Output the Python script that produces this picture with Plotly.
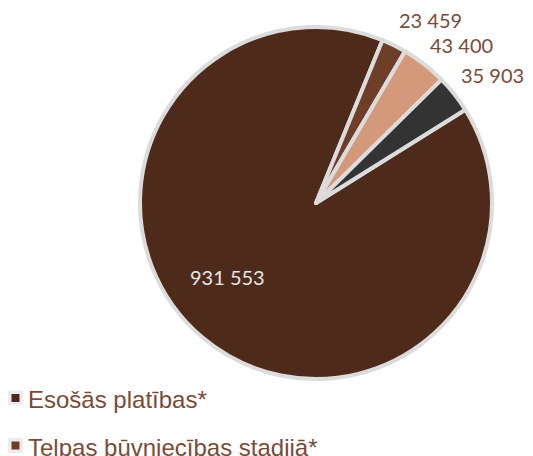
import math
import plotly.graph_objects as go

labels = ["Esošās platības*", "Telpas būvniecības stadijā*", "Plānotās platības*", "Citas platības*"]
values = [931553, 23459, 43400, 35903]
colors = ["#4E2A1A", "#6E3E29", "#D4987A", "#333333"]
legend_shown = labels[:2]

# page offset of the plot (default body margin)
OFF = 8
W, H = 533 - OFF, 456 - OFF
cx, cy, R = 316, 203, 176
ROT = 58


def pp(x, y):
    """page pixel -> paper fraction"""
    return (x - OFF) / W, 1 - (y - OFF) / H


fig = go.Figure()
x0, y1 = pp(cx - R, cy - R)
x1, y0 = pp(cx + R, cy + R)
fig.add_trace(go.Pie(
    labels=labels, values=values, sort=False, direction="clockwise", rotation=ROT,
    marker=dict(colors=colors, line=dict(color="#DCDCDC", width=4)),
    textinfo="none",
    domain=dict(x=[x0, x1], y=[y0, y1]),
    automargin=False, showlegend=False, hoverinfo="label+value",
))

# data labels placed from the slice angles
total = sum(values)
label_r = [115, 200, 194, 196]
label_da = [10, -2.3, -2.3, -2.7]
label_anchor = ["center", "left", "left", "left"]
label_dx = [0, 0, -1, -5]
label_col = ["#E6E6E6", "#7A4B37", "#7A4B37", "#7A4B37"]
annotations = []
cum = 0
for i, v in enumerate(values):
    mid = ROT + (cum + v / 2) / total * 360 + label_da[i]
    cum += v
    a = math.radians(mid)
    lx = cx + label_r[i] * math.sin(a) + label_dx[i]
    ly = cy - label_r[i] * math.cos(a)
    px_, py_ = pp(lx, ly)
    annotations.append(dict(text=f"{v:,}".replace(",", " "), xref="paper", yref="paper",
                            x=px_, y=py_, xanchor=label_anchor[i], yanchor="middle",
                            showarrow=False,
                            font=dict(family="Lato", size=20, color=label_col[i])))

shapes = []
for i, lab in enumerate(legend_shown):
    yc = 398 + i * 47.5
    a0, b0 = pp(8, yc + 7.5)
    a1, b1 = pp(23, yc - 7.5)
    shapes.append(dict(type="rect", xref="paper", yref="paper",
                       x0=a0, x1=a1, y0=b0, y1=b1,
                       fillcolor="#ECECEC", line=dict(width=0)))
    a0, b0 = pp(11.5, yc + 4)
    a1, b1 = pp(19.5, yc - 4)
    shapes.append(dict(type="rect", xref="paper", yref="paper",
                       x0=a0, x1=a1, y0=b0, y1=b1,
                       fillcolor=colors[i], line=dict(width=0)))
    tx, ty = pp(26, yc + 1.5)
    annotations.append(dict(text=lab, xref="paper", yref="paper", x=tx, y=ty,
                            xanchor="left", yanchor="middle", showarrow=False,
                            font=dict(family="Liberation Sans", size=24, color="#7A4B37")))

fig.update_layout(width=W, height=H, margin=dict(l=0, r=0, t=0, b=0),
                  paper_bgcolor="white", plot_bgcolor="white",
                  shapes=shapes, annotations=annotations, showlegend=False)
fig.write_html("out.html")
